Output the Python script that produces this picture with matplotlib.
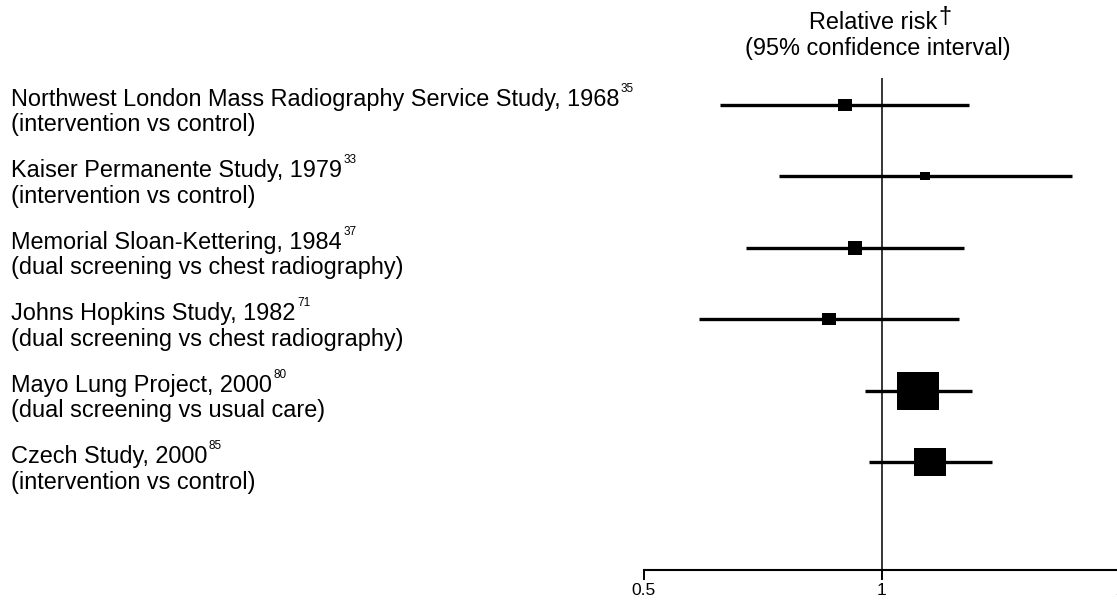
import matplotlib
matplotlib.use("Agg")
import matplotlib.pyplot as plt
from matplotlib.path import Path
import numpy as np

plt.rcParams['font.family'] = ['Liberation Sans', 'DejaVu Sans']

# ---- data ----
studies = [
    "Northwest London Mass Radiography Service Study, 1968",
    "Kaiser Permanente Study, 1979",
    "Memorial Sloan-Kettering, 1984",
    "Johns Hopkins Study, 1982",
    "Mayo Lung Project, 2000",
    "Czech Study, 2000",
]
refs = ["35", "33", "37", "71", "80", "85"]
comparisons = [
    "(intervention vs control)",
    "(intervention vs control)",
    "(dual screening vs chest radiography)",
    "(dual screening vs chest radiography)",
    "(dual screening vs usual care)",
    "(intervention vs control)",
]
rr = [0.899, 1.134, 0.925, 0.857, 1.112, 1.150]
ci_low = [0.625, 0.741, 0.674, 0.587, 0.952, 0.964]
ci_high = [1.288, 1.740, 1.270, 1.252, 1.299, 1.379]
weights = [9.4, 6.6, 10.4, 9.4, 30.0, 22.5]   # box size (study weight)
xticks = [0.5, 1, 2]
xticklabels = ["0.5", "1", "2"]

W, H = 1117, 600
fig = plt.figure(figsize=(W / 100, H / 100), dpi=100)

ax_left, ax_right = 643.5, 1120
ax_top, ax_bottom = 78, 570
ax = fig.add_axes([ax_left / W, (H - ax_bottom) / H,
                   (ax_right - ax_left) / W, (ax_bottom - ax_top) / H])
ax.set_xscale('log')
ax.set_xlim(0.5, 2)
row0, row_step = 104.7, 71.5
ax.set_ylim((ax_bottom - row0) / row_step, (ax_top - row0) / row_step)

ys = np.arange(len(studies))
ax.axvline(1, color='black', lw=1.1, zorder=1)
ax.hlines(ys, ci_low, ci_high, color='black', lw=2.4, zorder=2)
box = Path([(-1.1, -1), (1.1, -1), (1.1, 1), (-1.1, 1), (-1.1, -1)],
           [Path.MOVETO, Path.LINETO, Path.LINETO, Path.LINETO, Path.CLOSEPOLY])
for y, v, w in zip(ys, rr, weights):
    ax.plot([v], [y], marker=box, ms=w, color='black', mew=0, ls='none', zorder=3)

for s in ['top', 'right', 'left']:
    ax.spines[s].set_visible(False)
ax.spines['bottom'].set_linewidth(1.5)
ax.set_yticks([])
ax.set_xticks(xticks)
ax.set_xticklabels(xticklabels)
ax.xaxis.set_minor_locator(matplotlib.ticker.NullLocator())
ax.tick_params(axis='x', direction='out', length=7.2, width=1.4, pad=2.5, labelsize=12.5)


def ftext(x, y, s, **kw):
    return fig.text(x / W, 1 - y / H, s, va='baseline', **kw)


LABEL_FS = 16.9
SUP_FS = 8.5
renderer = fig.canvas.get_renderer()
for i, (name, ref, comp) in enumerate(zip(studies, refs, comparisons)):
    yc = row0 + i * row_step
    t = ftext(11, yc + 1, name, fontsize=LABEL_FS)
    bb = t.get_window_extent(renderer=renderer)
    ftext(bb.x1 + 1.5, yc + 1 - 14, ref, fontsize=SUP_FS)
    ftext(11, yc + 26.5, comp, fontsize=LABEL_FS)

h1 = ftext(809, 29, "Relative risk", fontsize=LABEL_FS)
bb = h1.get_window_extent(renderer=renderer)
ftext(bb.x1 + 1, 24, "\u2020", fontsize=LABEL_FS)
ftext(878, 55, "(95% confidence interval)", fontsize=LABEL_FS, ha='center')

fig.savefig("out.png", dpi=100)
